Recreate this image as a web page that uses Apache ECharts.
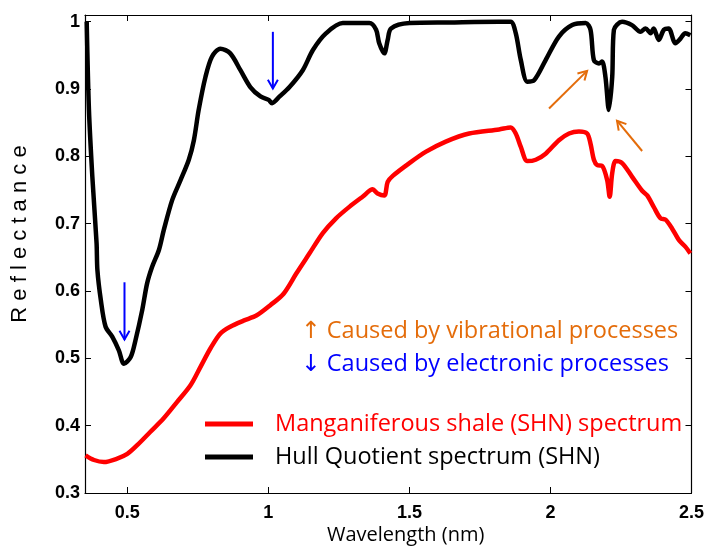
<!DOCTYPE html>
<html>
<head>
<meta charset="utf-8">
<script src="https://cdn.jsdelivr.net/npm/echarts@6/dist/echarts.min.js"></script>
<style>html,body{margin:0;padding:0;background:#fff}#c{width:707px;height:547px}</style>
</head>
<body>
<div id="c"></div>
<script>
// Hull quotient spectrum (black)
const hullX = [0.356,0.364,0.376,0.391,0.394,0.406,0.423,0.447,0.470,0.488,0.512,0.529,0.553,0.570,0.588,0.612,0.629,0.659,0.689,0.718,0.736,0.753,0.777,0.800,0.830,0.865,0.901,0.936,0.972,1.001,1.013,1.040,1.075,1.122,1.158,1.205,1.264,1.358,1.382,1.393,1.411,1.423,1.435,1.500,1.641,1.818,1.859,1.877,1.895,1.918,1.942,1.983,2.030,2.077,2.125,2.142,2.154,2.172,2.183,2.195,2.207,2.219,2.225,2.254,2.289,2.319,2.337,2.355,2.366,2.384,2.402,2.419,2.443,2.461,2.478,2.496];
const hullY = [1.000,0.869,0.770,0.671,0.631,0.587,0.547,0.532,0.512,0.492,0.502,0.527,0.572,0.611,0.636,0.661,0.690,0.735,0.765,0.795,0.824,0.869,0.918,0.948,0.960,0.953,0.928,0.903,0.889,0.884,0.879,0.889,0.903,0.928,0.958,0.983,0.998,0.998,0.988,0.968,0.953,0.973,0.990,0.998,0.999,1.000,1.000,0.983,0.943,0.911,0.913,0.943,0.978,0.995,0.998,0.988,0.943,0.938,0.941,0.918,0.869,0.918,0.988,1.000,0.995,0.985,0.990,0.983,0.990,0.973,0.988,0.990,0.968,0.975,0.983,0.980];
// Manganiferous shale spectrum (red)
const shaleX = [0.352,0.382,0.417,0.464,0.500,0.535,0.582,0.629,0.676,0.724,0.759,0.795,0.830,0.865,0.912,0.959,1.007,1.054,1.099,1.146,1.193,1.240,1.287,1.334,1.370,1.387,1.411,1.423,1.441,1.500,1.559,1.629,1.712,1.818,1.859,1.877,1.895,1.918,1.948,1.983,2.030,2.066,2.101,2.130,2.142,2.154,2.166,2.183,2.201,2.210,2.219,2.231,2.254,2.289,2.325,2.343,2.366,2.390,2.408,2.431,2.455,2.478,2.496];
const shaleY = [0.356,0.349,0.346,0.351,0.358,0.371,0.391,0.411,0.435,0.460,0.487,0.515,0.537,0.547,0.556,0.564,0.579,0.596,0.626,0.656,0.686,0.708,0.725,0.740,0.751,0.745,0.742,0.762,0.771,0.790,0.807,0.822,0.834,0.840,0.843,0.834,0.814,0.793,0.795,0.804,0.824,0.834,0.837,0.834,0.819,0.795,0.787,0.786,0.765,0.740,0.775,0.793,0.790,0.770,0.749,0.742,0.725,0.708,0.706,0.693,0.676,0.666,0.656];
const xTicks = [0.5, 1, 1.5, 2, 2.5];
const yTicks = [0.3, 0.4, 0.5, 0.6, 0.7, 0.8, 0.9, 1];
const seriesNames = ['Manganiferous shale (SHN) spectrum', 'Hull Quotient spectrum (SHN)'];
// annotation arrows: [x0, y0, x1(tip), y1(tip)] in data units
const blueArrows = [[0.490, 0.613, 0.490, 0.528], [1.016, 0.985, 1.016, 0.901]];
const orangeArrows = [[1.995, 0.871, 2.130, 0.927], [2.325, 0.808, 2.236, 0.853]];

const zip = (a, b) => a.map((v, i) => [v, b[i]]);

function arrowRender(params, api) {
  const p0 = api.coord([api.value(0), api.value(1)]);
  const p1 = api.coord([api.value(2), api.value(3)]);
  const ang = Math.atan2(p1[1] - p0[1], p1[0] - p0[0]);
  const L = 10, a = Math.PI / 6;
  const h1 = [p1[0] - L * Math.cos(ang - a), p1[1] - L * Math.sin(ang - a)];
  const h2 = [p1[0] - L * Math.cos(ang + a), p1[1] - L * Math.sin(ang + a)];
  const color = api.visual('color');
  return {
    type: 'group',
    children: [
      { type: 'line', shape: { x1: p0[0], y1: p0[1], x2: p1[0], y2: p1[1] }, style: { stroke: color, lineWidth: 2 } },
      { type: 'polyline', shape: { points: [h1, p1, h2] }, style: { stroke: color, lineWidth: 2, fill: null } }
    ]
  };
}

const axisCommon = {
  axisLine: { show: true, onZero: false, lineStyle: { color: '#000', width: 1.2 } },
  splitLine: { show: false },
  axisTick: { show: true, inside: true, length: 6, lineStyle: { color: '#000', width: 1 } }
};

const chart = echarts.init(document.getElementById('c'), null, { renderer: 'canvas' });
chart.setOption({
  animation: false,
  backgroundColor: '#fff',
  grid: { left: 85, right: 15, top: 15, bottom: 54 },
  xAxis: [
    Object.assign({}, axisCommon, {
      type: 'value', min: 0.35, max: 2.5, position: 'bottom',
      axisTick: Object.assign({}, axisCommon.axisTick, { customValues: xTicks }),
      axisLabel: { customValues: xTicks, color: '#000', fontFamily: 'Liberation Sans, Arial', fontWeight: 'bold', fontSize: 18, margin: 11 }
    }),
    Object.assign({}, axisCommon, {
      type: 'value', min: 0.35, max: 2.5, position: 'top',
      axisTick: Object.assign({}, axisCommon.axisTick, { customValues: xTicks }),
      axisLabel: { show: false }
    })
  ],
  yAxis: [
    Object.assign({}, axisCommon, {
      type: 'value', min: 0.3, max: 1.01, position: 'left',
      axisTick: Object.assign({}, axisCommon.axisTick, { customValues: yTicks }),
      axisLabel: { customValues: yTicks, color: '#000', fontFamily: 'Liberation Sans, Arial', fontWeight: 'bold', fontSize: 18, margin: 5 }
    }),
    Object.assign({}, axisCommon, {
      type: 'value', min: 0.3, max: 1.01, position: 'right',
      axisTick: Object.assign({}, axisCommon.axisTick, { customValues: yTicks }),
      axisLabel: { show: false }
    })
  ],
  legend: {
    orient: 'vertical',
    left: 200, top: 407,
    itemWidth: 48, itemHeight: 5, itemGap: 9,
    icon: 'rect',
    textStyle: { fontFamily: 'Open Sans', fontSize: 23.5, padding: [0, 0, 0, 17] },
    data: [
      { name: seriesNames[0], textStyle: { color: '#ff0000' } },
      { name: seriesNames[1], textStyle: { color: '#000000' } }
    ]
  },
  graphic: [
    { type: 'text', left: 327, top: 525, style: { text: 'Wavelength (nm)', font: '20px "Open Sans"', fill: '#000' } },
    { type: 'text', x: 20, y: 234, rotation: Math.PI / 2, style: { text: 'R e f l e c t a n c e', font: '22px "Liberation Sans"', fill: '#000', textAlign: 'center', textVerticalAlign: 'middle' } },
    { type: 'text', left: 301, top: 319, style: { text: '↑ Caused by vibrational processes', font: '23.5px "Open Sans", "DejaVu Sans"', fill: '#E46C0A' } },
    { type: 'text', left: 301, top: 352, style: { text: '↓ Caused by electronic processes', font: '23.5px "Open Sans", "DejaVu Sans"', fill: '#0000FF' } }
  ],
  series: [
    { name: seriesNames[0], type: 'line', data: zip(shaleX, shaleY), showSymbol: false, smooth: 0.3, color: '#ff0000', lineStyle: { color: '#ff0000', width: 4.5 }, z: 3 },
    { name: seriesNames[1], type: 'line', data: zip(hullX, hullY), showSymbol: false, smooth: 0.3, color: '#000000', lineStyle: { color: '#000000', width: 4.5 }, z: 3 },
    { type: 'custom', renderItem: arrowRender, data: blueArrows, itemStyle: { color: '#0000FF' }, z: 5, silent: true },
    { type: 'custom', renderItem: arrowRender, data: orangeArrows, itemStyle: { color: '#E46C0A' }, z: 5, silent: true }
  ]
});
</script>
</body>
</html>
